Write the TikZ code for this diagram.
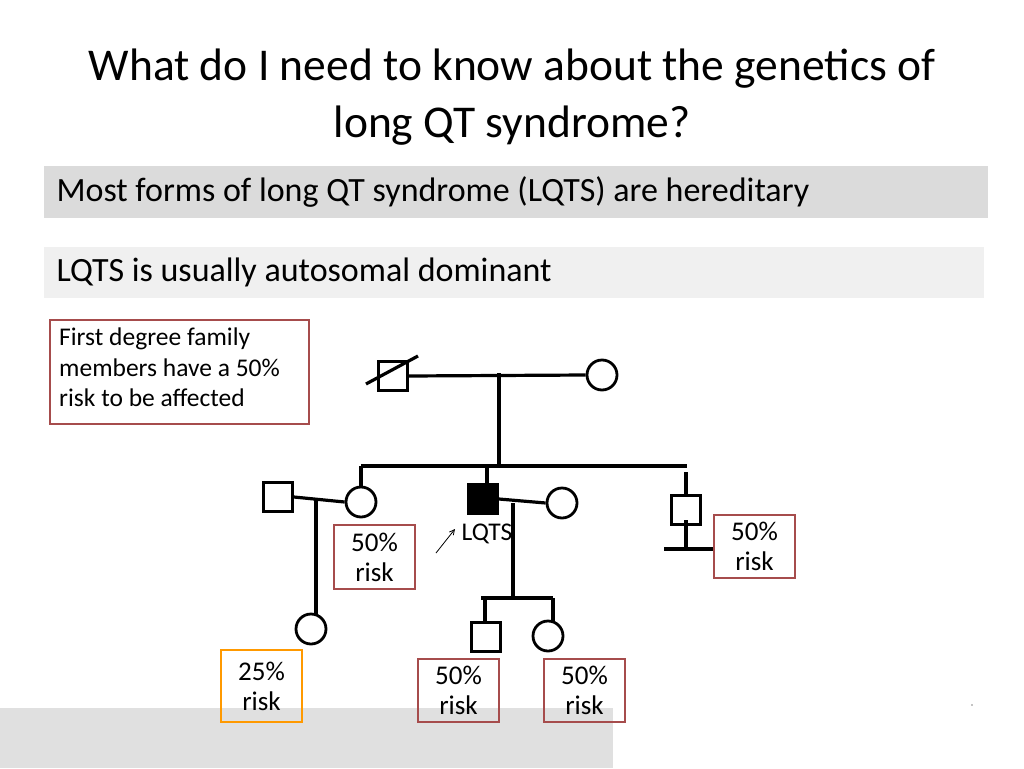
\documentclass[tikz,border=0pt]{standalone}
\usepackage{fontspec}
\setmainfont{Carlito}
\usetikzlibrary{arrows.meta}
\begin{document}
\begin{tikzpicture}[x=1pt,y=-1pt,
  ln/.style={line width=3.2pt},
  riskbox/.style={draw=red!50!black!70!white,line width=1.8pt,minimum width=81pt,align=center,font=\fontsize{27}{30}\selectfont,inner sep=0pt},
  sq/.style={draw,line width=2.8pt,minimum size=29pt,inner sep=0pt},
  ci/.style={draw,circle,line width=2.8pt,minimum size=30pt,inner sep=0pt}]
\useasboundingbox (0,0) rectangle (1024,768);
\fill[white] (0,0) rectangle (1024,768);
\node[font=\fontsize{45.5}{57}\selectfont,align=center] (title) at (512,97) {What do I need to know about the genetics of\\long QT syndrome?};
\fill[black!14] (44,166) rectangle (988,218);
\node[anchor=west,font=\fontsize{34}{36}\selectfont] (b1) at (53,192) {Most forms of long QT syndrome (LQTS) are hereditary};
\fill[black!6] (44,247) rectangle (984,298);
\node[anchor=west,font=\fontsize{34}{36}\selectfont] (b2) at (53,272) {LQTS is usually autosomal dominant};
\fill[black!12] (0,708) rectangle (613,768);
\node[draw=red!50!black!70!white,line width=1.8pt,minimum width=259pt,minimum height=104pt,anchor=north west,inner sep=0pt] (fd) at (49,319) {};
\node[anchor=north west,align=left,font=\fontsize{25.5}{30.5}\selectfont,inner sep=0pt] (fdt) at (59,328) {First degree family\\members have a 50\%\\risk to be affected};
% pedigree
\node[sq] (gf) at (393,376) {};
\coordinate (s1) at (366,384); \coordinate (s2) at (418,356);
\draw[ln] (s1) -- (s2);
\node[ci] (gm) at (602,375) {};
\draw[ln] (gf.east) -- (gm.west);
\coordinate (gc) at (499,373); \coordinate (gs) at (499,466);
\draw[ln] (gc) -- (gs);
\coordinate (sl) at (361,466); \coordinate (sr) at (687,466);
\draw[ln] (sl) -- (sr);
\node[ci] (sis) at (361,502) {};
\draw[ln] (sl) -- (sis.north);
\node[sq] (hus) at (278,497) {};
\draw[ln] (hus.east) -- (sis.west);
\coordinate (hc) at (316,500);
\node[ci] (gd) at (311,629) {};
\draw[ln] (hc) -- (316,615);
\node[sq,fill=black] (pro) at (483,499) {};
\draw[ln] (487,466) -- (487,485);
\node[ci] (sp) at (562,503) {};
\draw[ln] (pro.east) -- (sp.west);
\coordinate (pc) at (513,503); \coordinate (pd) at (513,598);
\draw[ln] (pc) -- (pd);
\draw[ln] (481,598) -- (553,598);
\node[sq] (son) at (486,637) {};
\node[ci] (dau) at (548,636) {};
\draw[ln] (485,598) -- (485,623);
\draw[ln] (553,598) -- (553,621);
\node[sq] (bro) at (686,510) {};
\draw[ln] (686,472) -- (bro.north);
\draw[ln] (686,520) -- (686,549);
\draw[ln] (664,549) -- (713,549);
\node[font=\fontsize{25.5}{28}\selectfont] (lq) at (487,534) {LQTS};
\coordinate (a1) at (436,553); \coordinate (a2) at (455,529);
\draw[line width=0.8pt,-{Straight Barb[length=5pt,width=5pt]}] (a1) -- (a2);
% risk boxes
\node[riskbox,minimum height=64pt] (r1) at (374.5,557) {50\%\\risk};
\node[riskbox,minimum height=63pt] (r2) at (754.5,546.5) {50\%\\risk};
\node[riskbox,draw=orange!80!yellow,minimum height=72pt] (r3) at (261.5,686) {25\%\\risk};
\node[riskbox,minimum height=63pt] (r4) at (458.5,690.5) {50\%\\risk};
\node[riskbox,minimum height=63pt] (r5) at (584.5,690.5) {50\%\\risk};
\fill (972,705) circle (0.7);
\end{tikzpicture}
\end{document}
